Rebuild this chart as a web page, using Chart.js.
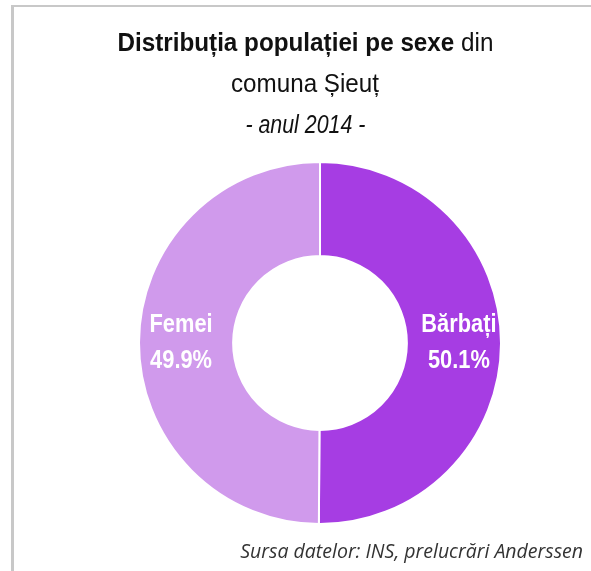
<!DOCTYPE html>
<html>
<head>
<meta charset="utf-8">
<script src="https://cdn.jsdelivr.net/npm/chart.js@4/dist/chart.umd.min.js"></script>
<style>
  html, body { margin: 0; padding: 0; background: #fff; }
  #wrap { position: relative; width: 591px; height: 571px; overflow: hidden; }
  #frame { position: absolute; left: 11px; top: 5px; width: 600px; height: 600px;
           border-left: 3px solid #c8c8c8; border-top: 2px solid #c8c8c8; }
  #titlu { position: absolute; left: 0; top: 22px; width: 610px; text-align: center;
           font-family: "Liberation Sans", Arial, sans-serif;
           font-size: 26.5px; line-height: 41px; color: #111; }
  #titlu span { display: inline-block; white-space: nowrap; transform-origin: 50% 50%; }
  #sursa { position: absolute; right: 8px; top: 537px; white-space: nowrap;
           font-family: "Open Sans", sans-serif; font-style: italic; font-size: 19.5px; color: #333; }
  canvas { position: absolute; left: 0; top: 0; }
</style>
</head>
<body>
<div id="wrap">
  <div id="frame"></div>
  <canvas id="grafic" width="591" height="571"></canvas>
  <div id="titlu">
    <div><span data-w="376"><b>Distribuția populației pe sexe</b> din</span></div>
    <div><span data-w="148">comuna Șieuț</span></div>
    <div><span data-w="120"><i>- anul 2014 -</i></span></div>
  </div>
  <div id="sursa">Sursa datelor: INS, prelucrări Anderssen</div>
</div>
<script>
const categorii = ["Bărbați", "Femei"];
const procente = [50.1, 49.9];
const culori = ["#a63de3", "#d09aec"];

// fontul original e ingust, asa ca strangem textul pe orizontala
document.querySelectorAll("#titlu span").forEach(s => {
  const w = s.getBoundingClientRect().width;
  s.style.transform = "scaleX(" + (parseFloat(s.dataset.w) / w) + ")";
});

// etichete in interiorul feliilor
const eticheteFelii = {
  id: "eticheteFelii",
  afterDatasetsDraw(chart) {
    const ctx = chart.ctx;
    const meta = chart.getDatasetMeta(0);
    ctx.save();
    ctx.fillStyle = "#fff";
    ctx.textAlign = "center";
    ctx.textBaseline = "alphabetic";
    ctx.font = 'bold 26px "Liberation Sans", Arial, sans-serif';
    meta.data.forEach((arc, i) => {
      const unghi = (arc.startAngle + arc.endAngle) / 2;
      const raza = (arc.innerRadius + arc.outerRadius) / 2 + 5;
      const x = arc.x + Math.cos(unghi) * raza;
      const y = arc.y + Math.sin(unghi) * raza;
      ctx.save();
      ctx.translate(x, y);
      ctx.scale(0.84, 1);
      ctx.fillText(categorii[i], 0, -11);
      ctx.fillText(procente[i].toFixed(1) + "%", 0, 25);
      ctx.restore();
    });
    ctx.restore();
  }
};

new Chart(document.getElementById("grafic"), {
  type: "doughnut",
  data: {
    labels: categorii,
    datasets: [{
      data: procente,
      backgroundColor: culori,
      borderColor: "#fff",
      borderWidth: 2
    }]
  },
  options: {
    responsive: false,
    animation: false,
    cutout: "48%",
    layout: { padding: { left: 138, top: 161, right: 89, bottom: 46 } },
    plugins: {
      legend: { display: false },
      tooltip: { enabled: false },
      title: { display: false }
    }
  },
  plugins: [eticheteFelii]
});
</script>
</body>
</html>
